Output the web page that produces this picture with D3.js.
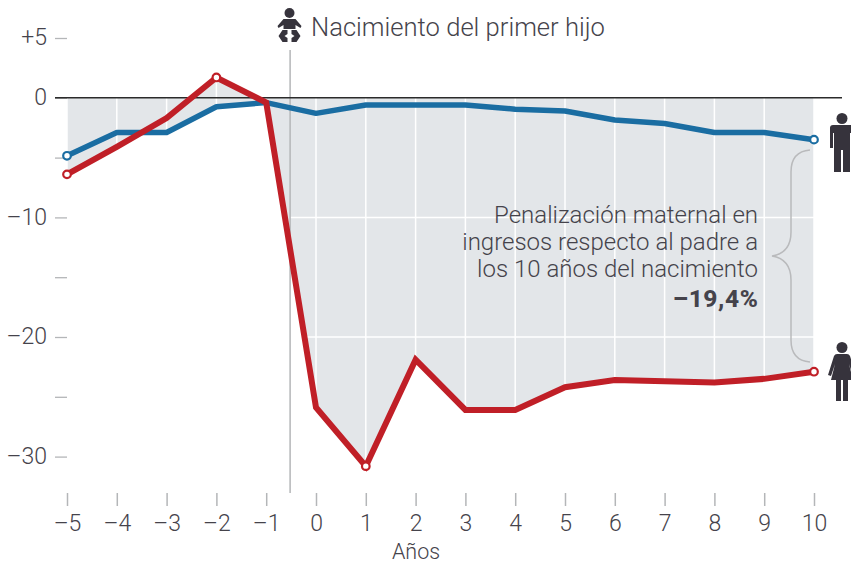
<!DOCTYPE html>
<html><head><meta charset="utf-8">
<script src="https://cdn.jsdelivr.net/npm/d3@7"></script>
<style>
html,body{margin:0;padding:0;background:#fff}
svg{display:block}
text{font-family:Roboto,sans-serif;fill:#45434b}
</style></head><body>
<svg id="c" width="851" height="564"></svg>
<script>
const years=[-5,-4,-3,-2,-1,0,1,2,3,4,5,6,7,8,9,10];
const padre=[-4.85,-2.9,-2.9,-0.75,-0.4,-1.3,-0.6,-0.6,-0.6,-0.95,-1.1,-1.85,-2.15,-2.9,-2.9,-3.5];
const madre=[-6.4,-4.1,-1.7,1.7,-0.4,-25.9,-30.8,-21.9,-26.1,-26.1,-24.2,-23.6,-23.7,-23.8,-23.5,-22.9];
const yTicks=[5,0,-5,-10,-15,-20,-25,-30];
const yLabelled={"5":"+5","0":"0","-10":"–10","-20":"–20","-30":"–30"};
const gridY=[-10,-20];
const birthAt=-0.52;
const madreMarks=[-5,-2,1,10];
const padreMarks=[-5,10];
const noteLines=["Penalización maternal en","ingresos respecto al padre a","los 10 años del nacimiento"];
const noteValue="–19,4%";
const birthLabel="Nacimiento del primer hijo";
const xTitle="Años";

const svg=d3.select("#c");
const x=d3.scaleLinear().domain([-5,10]).range([67,814]);
const y=d3.scaleLinear().domain([0,-30]).range([97.8,456.6]);
const sign=s=>String(s).replace("-","–");

svg.append("defs").append("clipPath").attr("id","ac")
  .selectAll("path").data([padre,madre]).join("path")
  .attr("d",s=>d3.area().x((d,i)=>x(years[i])).y0(y(0)).y1(d=>y(d))(s));

const areaG=svg.append("g").attr("clip-path","url(#ac)");
areaG.append("rect").attr("x",x(-5)).attr("y",y(3)).attr("width",x(10)-x(-5)).attr("height",y(-32)-y(3)).attr("fill","#e3e6e9");
areaG.selectAll(".gx").data(years).join("line").attr("x1",d=>x(d)).attr("x2",d=>x(d)).attr("y1",y(3)).attr("y2",y(-32)).attr("stroke","#fff").attr("stroke-width",1.5);
areaG.selectAll(".gy").data(gridY).join("line").attr("x1",x(birthAt)).attr("x2",x(10)).attr("y1",d=>y(d)).attr("y2",d=>y(d)).attr("stroke","#fff").attr("stroke-width",1.5);

// birth marker
svg.append("line").attr("x1",x(birthAt)).attr("x2",x(birthAt)).attr("y1",50).attr("y2",493).attr("stroke","#b4b6b8").attr("stroke-width",1.5);

// axes
const yAxis=d3.axisLeft(y).tickValues(yTicks).tickSize(12).tickPadding(8).tickFormat(d=>yLabelled[d]||"");
const yg=svg.append("g").attr("transform",`translate(${x(-5)},0)`).call(yAxis);
yg.select(".domain").remove();
yg.selectAll("line").attr("stroke","#b4b6b8").attr("stroke-width",1.3);
yg.selectAll("text").attr("font-size",23).style("font-family","Roboto,sans-serif").style("fill","#45434b").attr("font-weight",300).attr("dy","0.3em");

const xAxis=d3.axisBottom(x).tickValues(years).tickSize(13).tickPadding(9).tickFormat(sign);
const xg=svg.append("g").attr("transform","translate(0,493)").call(xAxis);
xg.select(".domain").remove();
xg.selectAll("line").attr("stroke","#b4b6b8").attr("stroke-width",1.5);
xg.selectAll("text").attr("font-size",23).style("font-family","Roboto,sans-serif").style("fill","#45434b").attr("font-weight",300);

svg.append("line").attr("x1",55).attr("x2",842).attr("y1",y(0)).attr("y2",y(0)).attr("stroke","#2b2b2b").attr("stroke-width",1.5);

// bracket
svg.append("path").attr("fill","none").attr("stroke","#b9babc").attr("stroke-width",1.5)
 .attr("d","M810,150 C797,151 791,158 791,172 L791,232 C791,246 784,254 772,256 C784,258 791,266 791,280 L791,340 C791,354 797,361 810,362");

// lines
const line=d3.line().x((d,i)=>x(years[i])).y(d=>y(d));
svg.append("path").attr("d",line(padre)).attr("fill","none").attr("stroke","#1a6da2").attr("stroke-width",5.5).attr("stroke-linejoin","round");
svg.append("path").attr("d",line(madre)).attr("fill","none").attr("stroke","#c01f27").attr("stroke-width",6).attr("stroke-linejoin","miter");
const dots=(marks,s,c)=>svg.append("g").selectAll("circle").data(marks).join("circle")
  .attr("cx",d=>x(d)).attr("cy",d=>y(s[years.indexOf(d)])).attr("r",3.8).attr("fill","#fff").attr("stroke",c).attr("stroke-width",2.2);
dots(padreMarks,padre,"#1a6da2");
dots(madreMarks,madre,"#c01f27");

// note
const note=svg.append("g").attr("text-anchor","end");
note.selectAll(".n").data(noteLines).join("text").attr("x",758).attr("y",(d,i)=>222.5+i*27.4).attr("font-size",24).attr("font-weight",300).text(d=>d);
note.append("text").attr("x",758.5).attr("y",306.5).attr("font-size",24.5).attr("font-weight",800).attr("letter-spacing",0.6).text(noteValue);

svg.append("text").attr("x",311).attr("y",36).attr("font-size",25.6).attr("font-weight",300).text(birthLabel);
svg.append("text").attr("x",416).attr("y",559).attr("text-anchor","middle").attr("font-size",21.5).attr("font-weight",300).text(xTitle);

// icons
const ic="#36333c";
const baby=svg.append("g").attr("transform","translate(289.5,0)").attr("fill",ic);
baby.append("circle").attr("cx",0).attr("cy",13).attr("r",5);
baby.append("path").attr("d","M-6,19 L6,19 L12,26 L11,28 L6,25 L6,29 L-6,29 L-6,25 L-11,28 L-12,26 Z");
baby.append("path").attr("d","M-11,36 L-7,30 L-2,30 L-2,34 L-5,36 L-2,38 L-2,42 L-7,42 Z");
baby.append("path").attr("d","M11,36 L7,30 L2,30 L2,34 L5,36 L2,38 L2,42 L7,42 Z");

const man=svg.append("g").attr("transform","translate(842,0)").attr("fill",ic);
man.append("circle").attr("cx",0).attr("cy",118.5).attr("r",5.5);
man.append("path").attr("d","M-9,125 Q-12,125 -12,128 L-12,148 L-9,148 L-9,133 L-8,133 L-8,172 L-1,172 L-1,150 L1,150 L1,172 L8,172 L8,133 L9,133 L9,148 L12,148 L12,128 Q12,125 9,125 Z");

const woman=svg.append("g").attr("transform","translate(842,0)").attr("fill",ic);
woman.append("circle").attr("cx",0).attr("cy",347.5).attr("r",5.5);
woman.append("path").attr("d","M-5,354 L5,354 Q7,354 8,356 L14,375 L11,376 L7,364 L11,380 L6,380 L6,401 L1,401 L1,380 L-1,380 L-1,401 L-6,401 L-6,380 L-11,380 L-7,364 L-11,376 L-14,375 L-8,356 Q-7,354 -5,354 Z");
</script></body></html>
